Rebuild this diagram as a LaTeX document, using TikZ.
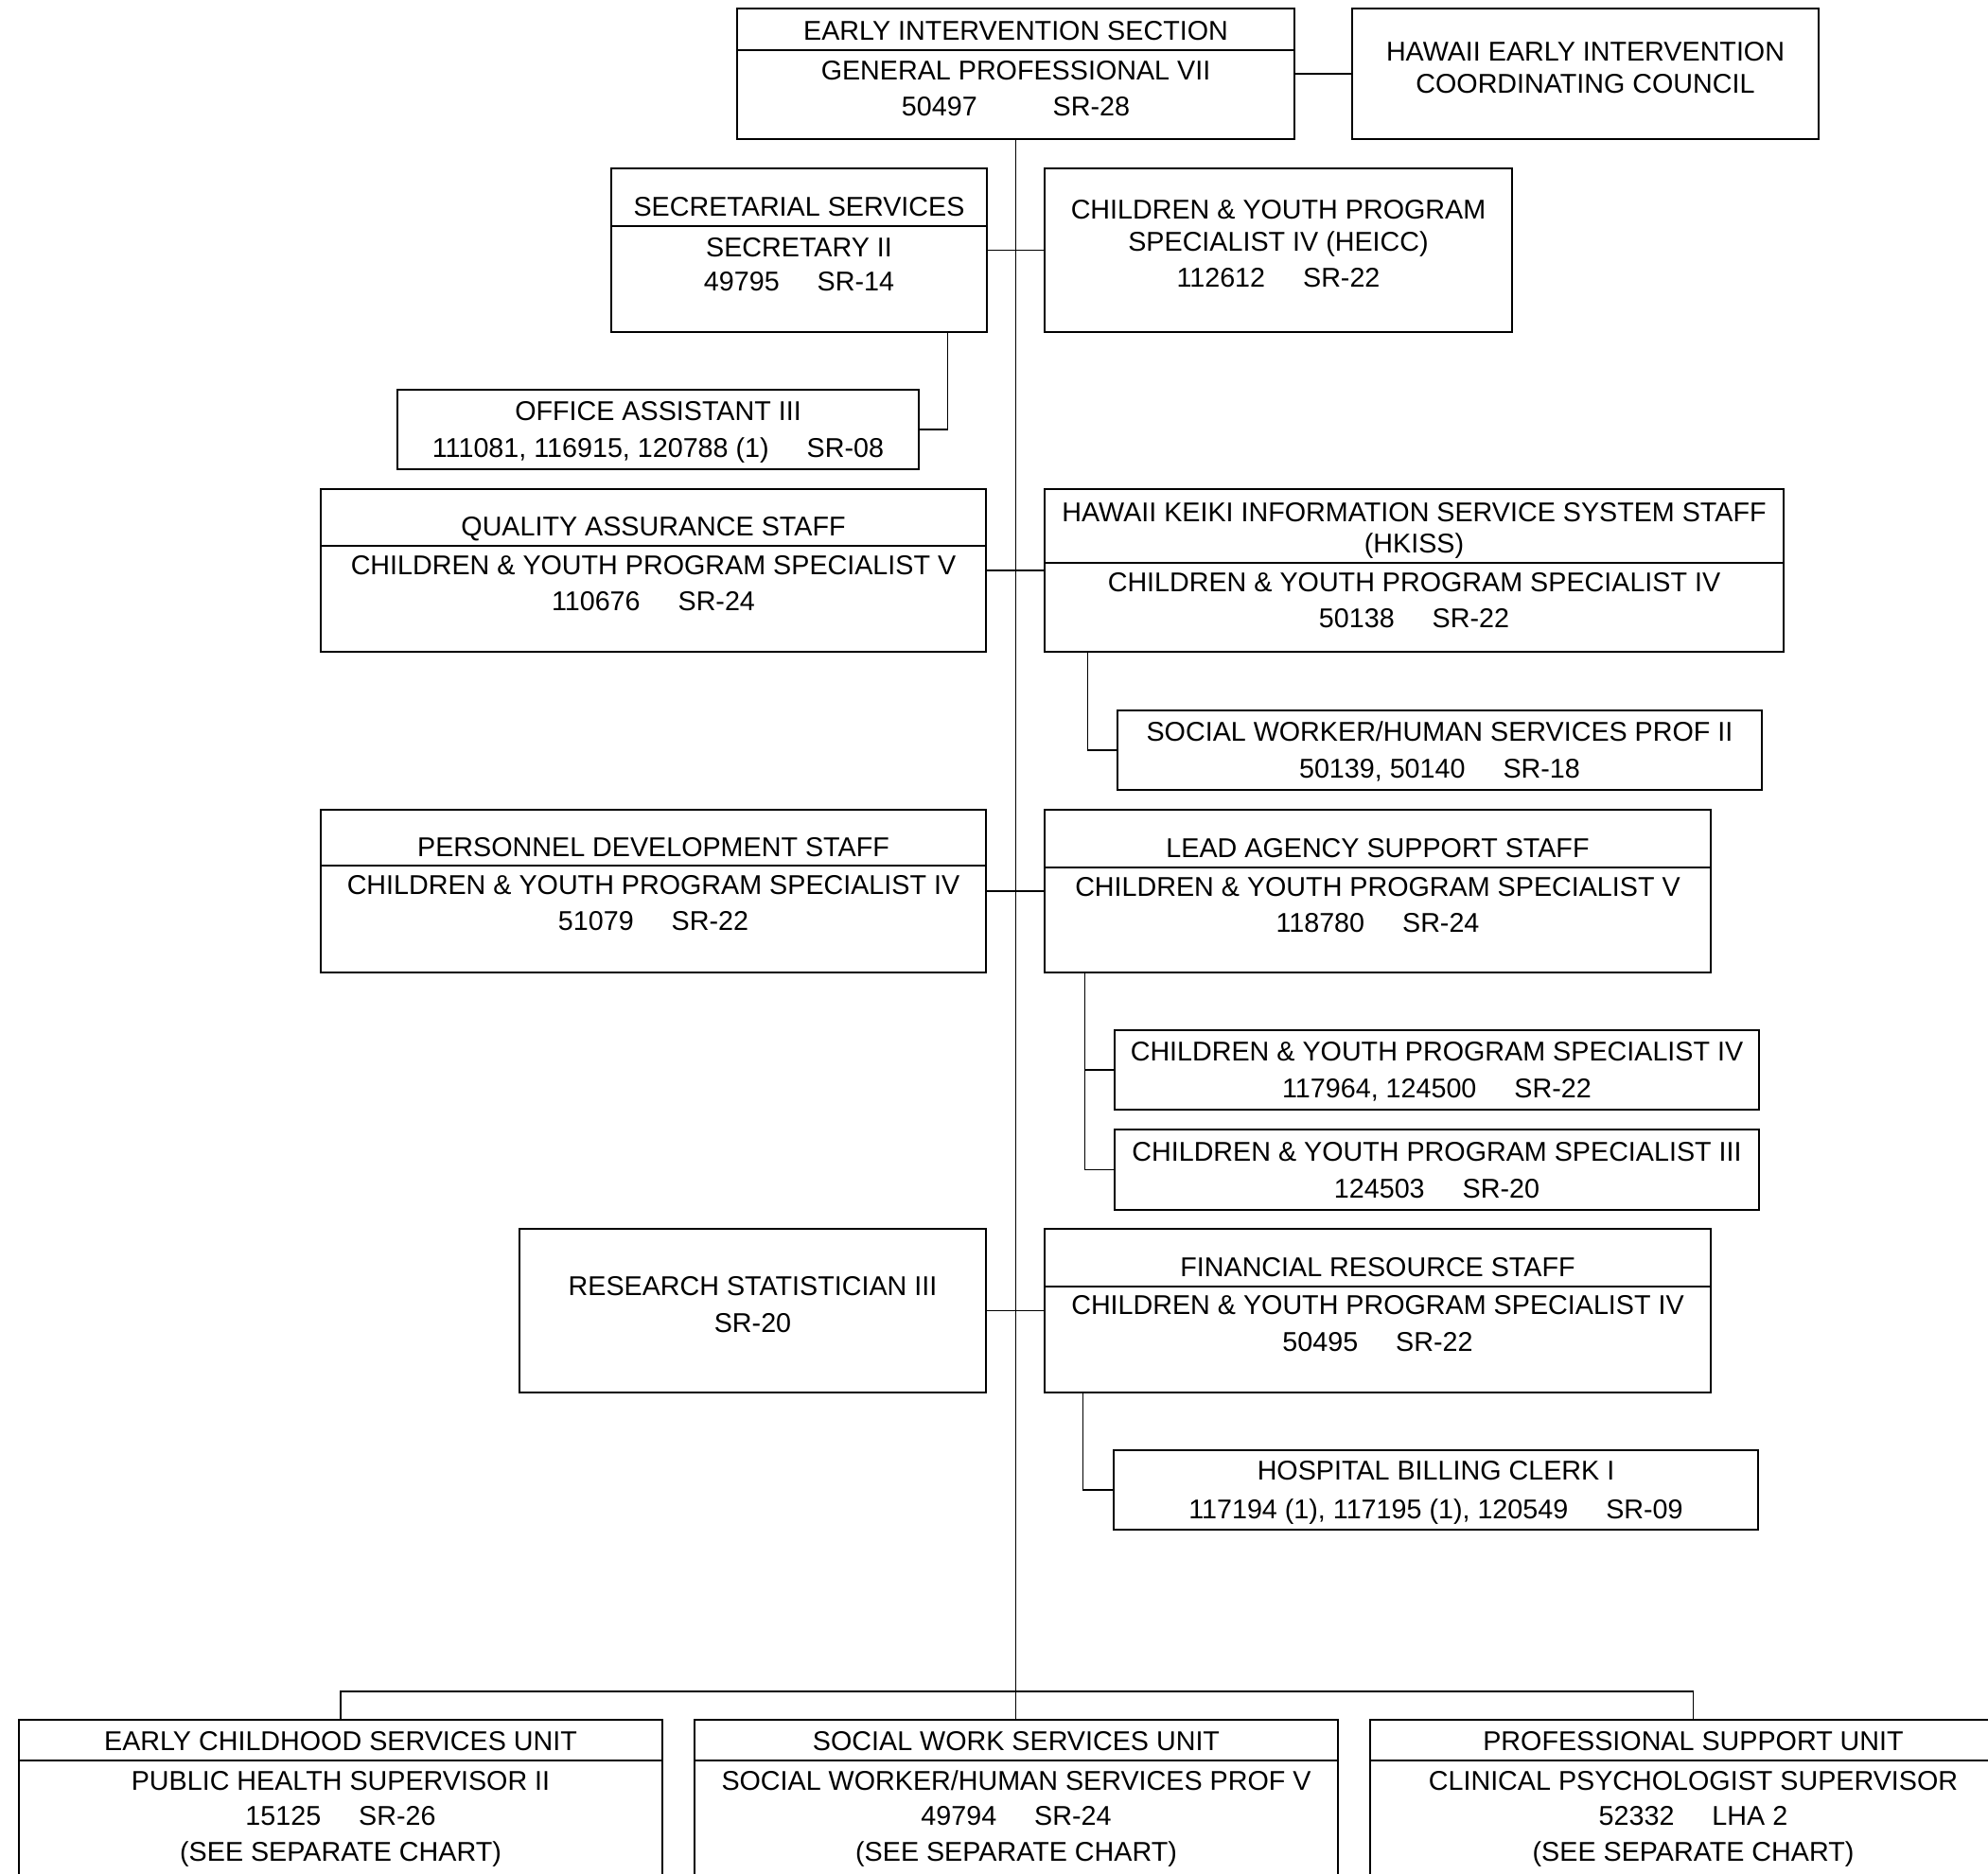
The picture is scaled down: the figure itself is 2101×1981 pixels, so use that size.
\documentclass[tikz,border=0pt]{standalone}
\usepackage{fontspec}
\setmainfont{Liberation Sans}
\usetikzlibrary{fit}
\newcommand\txtline[4]{\node[txt] (#1) at (#2,#3) {#4};}
\begin{document}
\begin{tikzpicture}[x=0.5pt,y=-0.5pt,
  box/.style={draw=black, line width=0.75pt, inner sep=0pt, rectangle},
  divider/.style={draw=black, line width=0.75pt},
  txt/.style={anchor=base, inner sep=0pt, font=\fontsize{14.35}{17}\selectfont},
  conn/.style={draw=black, line width=0.6pt}]
\path[use as bounding box, clip] (0,0) rectangle (2101,1981);
\fill[white] (0,0) rectangle (2101,1981);

% boxes
\node[box, fit={(779,9) (1368,147)}] (top) {};
\node[box, fit={(1429,9) (1922,147)}] (heicc) {};
\node[box, fit={(646,178) (1043,351)}] (sec) {};
\node[box, fit={(1104,178) (1598,351)}] (cy1) {};
\node[box, fit={(420,412) (971,496)}] (oa) {};
\node[box, fit={(339,517) (1042,689)}] (qa) {};
\node[box, fit={(1104,517) (1885,689)}] (hk) {};
\node[box, fit={(1181,751) (1862,835)}] (sw2) {};
\node[box, fit={(339,856) (1042,1028)}] (pd) {};
\node[box, fit={(1104,856) (1808,1028)}] (la) {};
\node[box, fit={(1178,1089) (1859,1173)}] (ca) {};
\node[box, fit={(1178,1194) (1859,1279)}] (cb) {};
\node[box, fit={(549,1299) (1042,1472)}] (rs) {};
\node[box, fit={(1104,1299) (1808,1472)}] (fr) {};
\node[box, fit={(1177,1533) (1858,1617)}] (hb) {};
\node[box, fit={(20,1818) (700,2010)}] (u1) {};
\node[box, fit={(734,1818) (1414,2010)}] (u2) {};
\node[box, fit={(1448,1818) (2131,2010)}] (u3) {};

% dividers
\draw[divider] (top.west |- 0,53) -- (top.east |- 0,53);
\draw[divider] (sec.west |- 0,239) -- (sec.east |- 0,239);
\draw[divider] (qa.west |- 0,577) -- (qa.east |- 0,577);
\draw[divider] (hk.west |- 0,595) -- (hk.east |- 0,595);
\draw[divider] (pd.west |- 0,915) -- (pd.east |- 0,915);
\draw[divider] (la.west |- 0,917) -- (la.east |- 0,917);
\draw[divider] (fr.west |- 0,1360) -- (fr.east |- 0,1360);
\draw[divider] (u1.west |- 0,1861) -- (u1.east |- 0,1861);
\draw[divider] (u2.west |- 0,1861) -- (u2.east |- 0,1861);
\draw[divider] (u3.west |- 0,1861) -- (u3.east |- 0,1861);

% connectors
\draw[conn] (top.east) -- (heicc.west);
\draw[conn] (top.south) -- (top.south |- u2.north);
\draw[conn] (sec.east) -- (cy1.west);
\draw[conn] ([xshift=-21pt]sec.south east) |- (oa.east);
\draw[conn] (qa.east) -- (hk.west);
\draw[conn] ([xshift=23pt]hk.south west) |- (sw2.west);
\draw[conn] (pd.east) -- (la.west);
\draw[conn] ([xshift=21.5pt]la.south west) |- (ca.west);
\draw[conn] ([xshift=21.5pt]la.south west) |- (cb.west);
\draw[conn] (rs.east) -- (fr.west);
\draw[conn] ([xshift=20.75pt]fr.south west) |- (hb.west);
\coordinate (bus) at (0,1788);
\draw[conn] (u1.north) -- (u1.north |- bus) -- (u3.north |- bus) -- (u3.north);

% texts
\txtline{top-a}{1073.5}{42}{EARLY INTERVENTION SECTION}
\txtline{top-b}{1073.5}{84}{GENERAL PROFESSIONAL VII}
\txtline{top-c}{1073.5}{122}{50497\hspace{40pt}SR-28}

\txtline{heicc-a}{1675.5}{64}{HAWAII EARLY INTERVENTION}
\txtline{heicc-b}{1675.5}{98}{COORDINATING COUNCIL}

\txtline{sec-a}{844.5}{228}{SECRETARIAL SERVICES}
\txtline{sec-b}{844.5}{271}{SECRETARY II}
\txtline{sec-c}{844.5}{307}{49795\hspace{20pt}SR-14}

\txtline{cy1-a}{1351}{231}{CHILDREN \& YOUTH PROGRAM}
\txtline{cy1-b}{1351}{265}{SPECIALIST IV (HEICC)}
\txtline{cy1-c}{1351}{303}{112612\hspace{20pt}SR-22}

\txtline{oa-a}{695.5}{444}{OFFICE ASSISTANT III}
\txtline{oa-b}{695.5}{483}{111081, 116915, 120788 (1)\hspace{20pt}SR-08}

\txtline{qa-a}{690.5}{566}{QUALITY ASSURANCE STAFF}
\txtline{qa-b}{690.5}{607}{CHILDREN \& YOUTH PROGRAM SPECIALIST V}
\txtline{qa-c}{690.5}{645}{110676\hspace{20pt}SR-24}

\txtline{hk-a}{1494.5}{551}{HAWAII KEIKI INFORMATION SERVICE SYSTEM STAFF}
\txtline{hk-b}{1494.5}{584}{(HKISS)}
\txtline{hk-c}{1494.5}{625}{CHILDREN \& YOUTH PROGRAM SPECIALIST IV}
\txtline{hk-d}{1494.5}{663}{50138\hspace{20pt}SR-22}

\txtline{sw2-a}{1521.5}{783}{SOCIAL WORKER/HUMAN SERVICES PROF II}
\txtline{sw2-b}{1521.5}{822}{50139, 50140\hspace{20pt}SR-18}

\txtline{pd-a}{690.5}{905}{PERSONNEL DEVELOPMENT STAFF}
\txtline{pd-b}{690.5}{945}{CHILDREN \& YOUTH PROGRAM SPECIALIST IV}
\txtline{pd-c}{690.5}{983}{51079\hspace{20pt}SR-22}

\txtline{la-a}{1456}{906}{LEAD AGENCY SUPPORT STAFF}
\txtline{la-b}{1456}{947}{CHILDREN \& YOUTH PROGRAM SPECIALIST V}
\txtline{la-c}{1456}{985}{118780\hspace{20pt}SR-24}

\txtline{ca-a}{1518.5}{1121}{CHILDREN \& YOUTH PROGRAM SPECIALIST IV}
\txtline{ca-b}{1518.5}{1160}{117964, 124500\hspace{20pt}SR-22}

\txtline{cb-a}{1518.5}{1227}{CHILDREN \& YOUTH PROGRAM SPECIALIST III}
\txtline{cb-b}{1518.5}{1266}{124503\hspace{20pt}SR-20}

\txtline{rs-a}{795.5}{1369}{RESEARCH STATISTICIAN III}
\txtline{rs-b}{795.5}{1408}{SR-20}

\txtline{fr-a}{1456}{1349}{FINANCIAL RESOURCE STAFF}
\txtline{fr-b}{1456}{1389}{CHILDREN \& YOUTH PROGRAM SPECIALIST IV}
\txtline{fr-c}{1456}{1428}{50495\hspace{20pt}SR-22}

\txtline{hb-a}{1517.5}{1564}{HOSPITAL BILLING CLERK I}
\txtline{hb-b}{1517.5}{1605}{117194 (1), 117195 (1), 120549\hspace{20pt}SR-09}

\txtline{u1-a}{360}{1850}{EARLY CHILDHOOD SERVICES UNIT}
\txtline{u1-b}{360}{1892}{PUBLIC HEALTH SUPERVISOR II}
\txtline{u1-c}{360}{1929}{15125\hspace{20pt}SR-26}
\txtline{u1-d}{360}{1967}{(SEE SEPARATE CHART)}

\txtline{u2-a}{1074}{1850}{SOCIAL WORK SERVICES UNIT}
\txtline{u2-b}{1074}{1892}{SOCIAL WORKER/HUMAN SERVICES PROF V}
\txtline{u2-c}{1074}{1929}{49794\hspace{20pt}SR-24}
\txtline{u2-d}{1074}{1967}{(SEE SEPARATE CHART)}

\txtline{u3-a}{1789.5}{1850}{PROFESSIONAL SUPPORT UNIT}
\txtline{u3-b}{1789.5}{1892}{CLINICAL PSYCHOLOGIST SUPERVISOR}
\txtline{u3-c}{1789.5}{1929}{52332\hspace{20pt}LHA 2}
\txtline{u3-d}{1789.5}{1967}{(SEE SEPARATE CHART)}
\end{tikzpicture}
\end{document}
